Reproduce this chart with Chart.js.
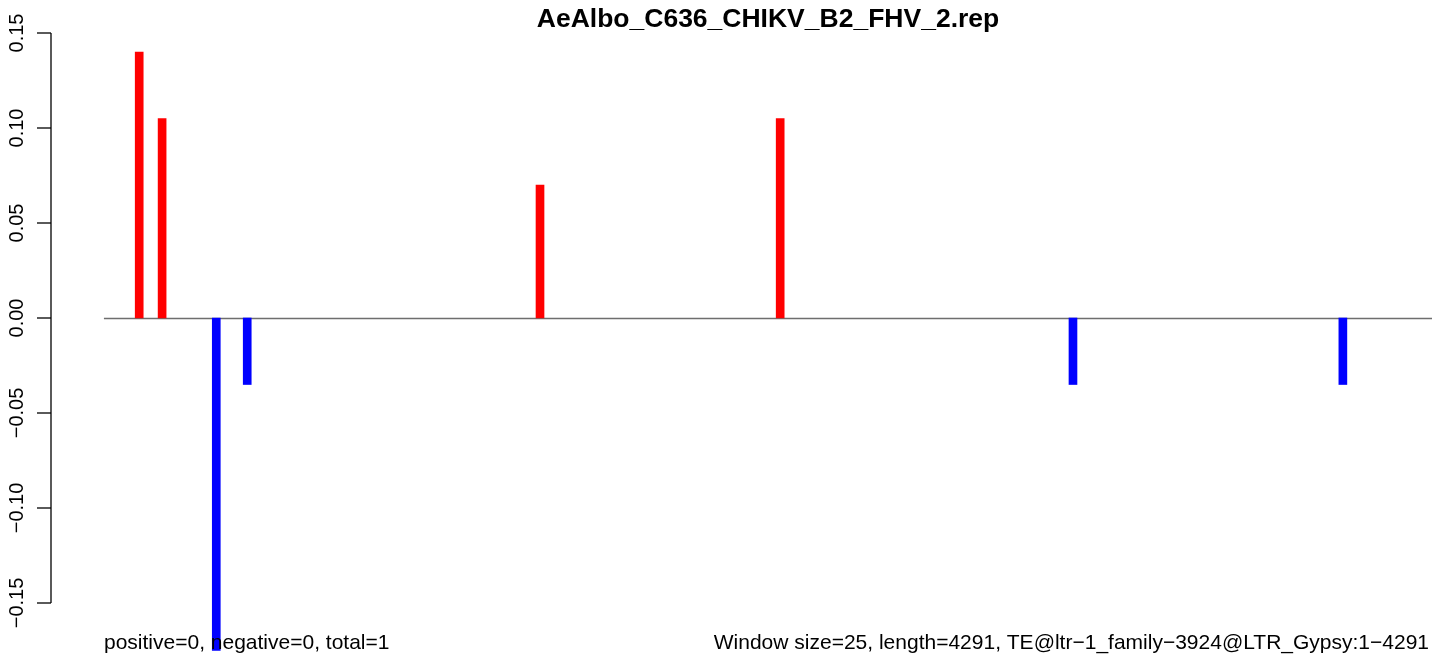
<!DOCTYPE html>
<html>
<head>
<meta charset="utf-8">
<script src="https://cdn.jsdelivr.net/npm/chart.js@4"></script>
<style>
  body { margin: 0; background: #fff; }
  canvas { display: block; }
</style>
</head>
<body>
<canvas id="repChart" width="1444" height="658"></canvas>
<script>
// Datos del gráfico
const titulo = 'AeAlbo_C636_CHIKV_B2_FHV_2.rep';
const posiciones = [114, 188, 363, 463, 1409, 2185, 3131, 4003];
const valores = [0.14, 0.105, -0.175, -0.035, 0.07, 0.105, -0.035, -0.035];
const ticksY = [-0.15, -0.10, -0.05, 0.00, 0.05, 0.10, 0.15];
const etiquetasY = ['\u22120.15', '\u22120.10', '\u22120.05', '0.00', '0.05', '0.10', '0.15'];
const longitud = 4291;
const textoIzq = 'positive=0, negative=0, total=1';
const textoDer = 'Window size=25, length=4291, TE@ltr\u22121_family\u22123924@LTR_Gypsy:1\u22124291';

const fuente = '"Liberation Sans", Arial, Helvetica, sans-serif';

// Plugin para dibujar ejes, línea cero y textos al estilo R
const estiloR = {
    id: 'estiloR',
    beforeDatasetsDraw(chart) {
        const ctx = chart.ctx;
        const x = chart.scales.x;
        const y = chart.scales.y;
        const y0 = Math.round(y.getPixelForValue(0)) + 0.5;
        ctx.save();
        ctx.strokeStyle = '#6e6e6e';
        ctx.lineWidth = 1.3;
        ctx.beginPath();
        ctx.moveTo(x.getPixelForValue(0), y0);
        ctx.lineTo(x.getPixelForValue(longitud), y0);
        ctx.stroke();
        ctx.restore();
    },
    afterDraw(chart) {
        const ctx = chart.ctx;
        const y = chart.scales.y;
        const left = chart.chartArea.left;
        ctx.save();
        // eje y
        ctx.strokeStyle = '#000';
        ctx.lineWidth = 1.3;
        ctx.beginPath();
        ctx.moveTo(left, y.getPixelForValue(ticksY[0]));
        ctx.lineTo(left, y.getPixelForValue(ticksY[ticksY.length - 1]));
        ctx.stroke();
        ticksY.forEach(function(v, i) {
            const py = y.getPixelForValue(v);
            ctx.beginPath();
            ctx.moveTo(left - 14, py);
            ctx.lineTo(left, py);
            ctx.stroke();
            ctx.save();
            ctx.translate(23, py);
            ctx.rotate(-Math.PI / 2);
            ctx.fillStyle = '#000';
            ctx.font = '20px ' + fuente;
            ctx.textAlign = 'center';
            ctx.textBaseline = 'alphabetic';
            ctx.fillText(etiquetasY[i], 0, 0);
            ctx.restore();
        });
        // título
        ctx.fillStyle = '#000';
        ctx.font = 'bold 26.5px ' + fuente;
        ctx.textAlign = 'center';
        ctx.textBaseline = 'alphabetic';
        ctx.fillText(titulo, 768, 27);
        // textos inferiores
        ctx.font = '21px ' + fuente;
        ctx.textAlign = 'left';
        ctx.fillText(textoIzq, 104, 649);
        ctx.textAlign = 'right';
        ctx.fillText(textoDer, 1429, 649);
        ctx.restore();
    }
};

const ctx = document.getElementById('repChart').getContext('2d');
const repChart = new Chart(ctx, {
    type: 'bar',
    data: {
        datasets: [{
            data: posiciones.map((p, i) => ({ x: p, y: valores[i] })),
            backgroundColor: valores.map(v => v >= 0 ? '#ff0000' : '#0000ff'),
            barThickness: 8,
            borderWidth: 0,
            clip: false
        }]
    },
    options: {
        responsive: false,
        animation: false,
        devicePixelRatio: 1,
        layout: {
            padding: { top: 33, bottom: 55, left: 51, right: 12 }
        },
        plugins: {
            legend: { display: false },
            tooltip: { enabled: false },
            title: { display: false }
        },
        scales: {
            x: { type: 'linear', min: -171, max: longitud, offset: false, display: false },
            y: { min: -0.15, max: 0.15, display: false }
        }
    },
    plugins: [estiloR]
});
</script>
</body>
</html>
